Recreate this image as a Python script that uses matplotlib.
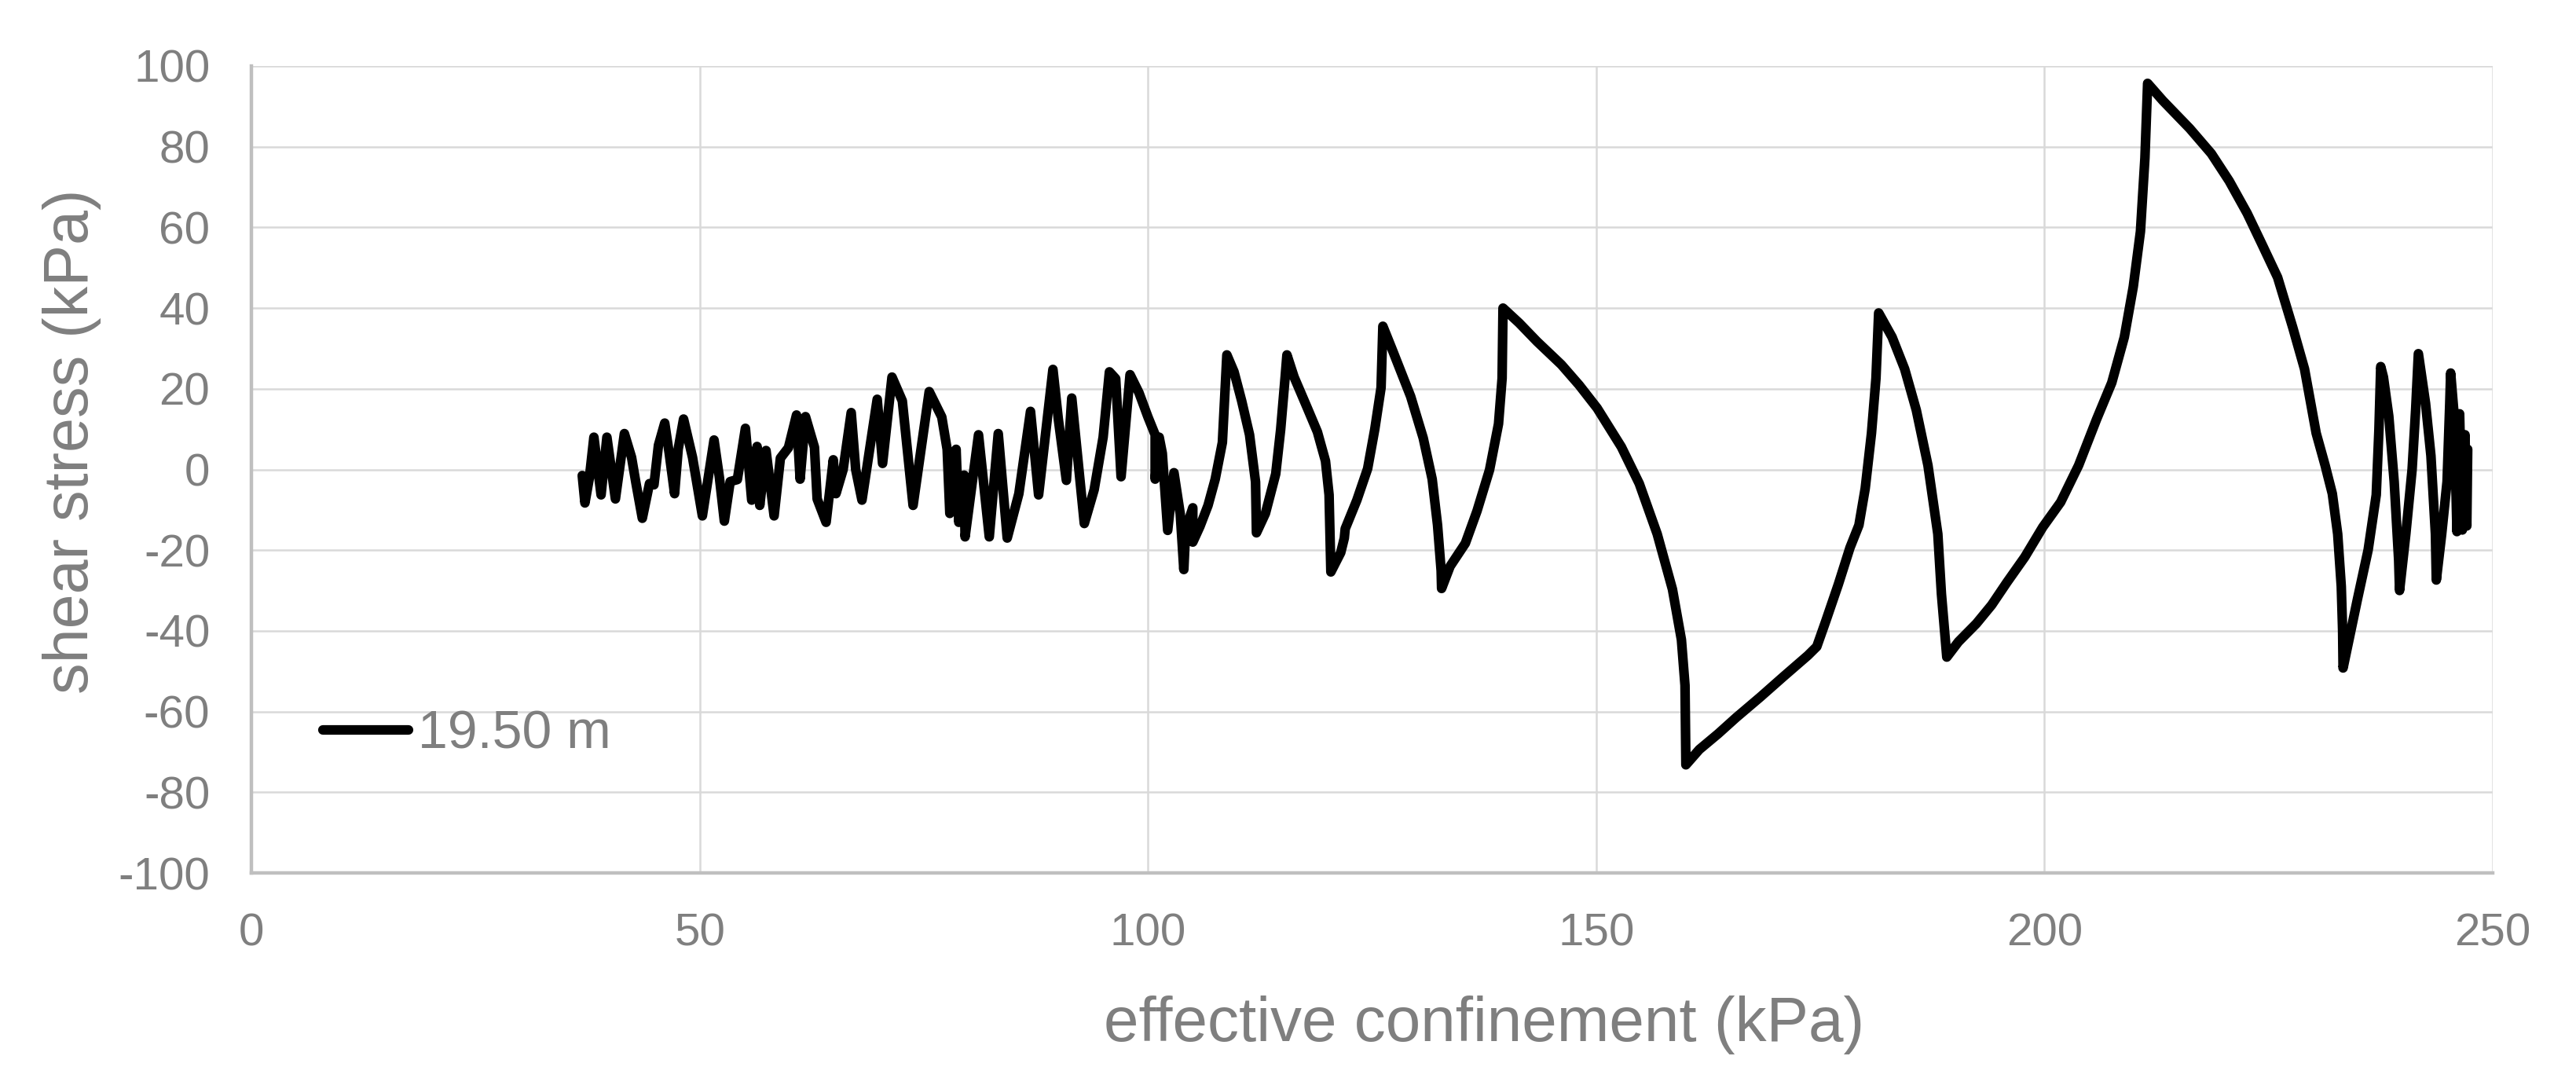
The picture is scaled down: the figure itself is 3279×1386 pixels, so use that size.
import matplotlib
matplotlib.use('Agg')
import matplotlib.pyplot as plt

plt.rcParams['font.family'] = ['Liberation Sans', 'DejaVu Sans']
plt.rcParams['axes.unicode_minus'] = False

# effective confinement (kPa) / shear stress (kPa)
conf = [36.9, 37.2, 37.7, 38.2, 39.0, 39.65, 40.6, 41.6, 42.4, 42.9,
        43.6, 44.4, 44.9, 45.4, 46.1, 46.6, 47.2, 47.6, 48.2, 49.2,
        50.3, 51.6, 52.2, 52.75, 53.4, 54.2, 55.1, 55.8, 56.4, 56.7,
        57.4, 58.3, 59.0, 59.9, 60.8, 61.2, 61.8, 62.8, 63.1, 64.1,
        64.9, 65.2, 66.0, 66.9, 67.4, 68.1, 69.8, 70.4, 71.45, 72.6,
        73.8, 75.6, 77.0, 77.6, 77.9, 78.6, 78.9, 79.5, 79.6, 81.1,
        82.3, 83.3, 83.8, 84.3, 85.6, 86.9, 87.8, 89.4, 90.0, 90.9,
        91.5, 92.9, 94.0, 95.0, 95.7, 96.4, 97.0, 98.0, 99.0, 100.0,
        100.8, 100.8, 101.25, 101.6, 102.2, 102.9, 103.6, 104.0, 104.2, 105.0,
        105.0, 105.8, 106.7, 107.5, 108.3, 108.6, 108.8, 109.6, 110.45, 111.33,
        112.0, 112.1, 113.1, 114.25, 114.8, 115.3, 115.5, 116.3, 117.8, 118.9,
        119.8, 120.2, 120.4, 121.5, 121.9, 122.0, 123.3, 124.5, 125.3, 126.0,
        126.2, 127.3, 129.3, 130.7, 131.7, 132.3, 132.7, 132.75, 133.7, 135.4,
        136.7, 138.1, 139.1, 139.5, 139.6, 141.4, 143.4, 146.1, 148.1, 150.1,
        152.8, 154.8, 156.8, 158.5, 159.5, 159.9, 160.0, 161.5, 163.6, 165.6,
        168.3, 170.9, 173.6, 174.6, 175.6, 177.0, 178.3, 179.3, 180.0, 180.7,
        181.2, 181.5, 183.0, 184.4, 185.7, 187.0, 188.1, 188.5, 189.1, 190.4,
        192.4, 194.1, 195.8, 197.8, 199.8, 201.8, 203.8, 205.8, 207.5, 208.9,
        209.9, 210.7, 211.2, 211.5, 213.2, 216.2, 218.6, 220.6, 222.6, 224.3,
        226.0, 227.7, 229.0, 230.3, 231.3, 232.1, 232.7, 233.1, 233.25, 233.3,
        234.1, 234.9, 236.1, 237.0, 237.3, 237.5, 237.8, 238.4, 239.0, 239.5,
        239.6, 240.3, 241.0, 241.4, 241.7, 242.5, 243.1, 243.6, 243.7, 244.3,
        244.9, 245.2, 245.3, 245.7, 246.0, 246.3, 246.6, 246.9, 247.1, 247.2]
shear = [-1.5, -8.3, -2.0, 8.0, -6.3, 8.0, -7.3, 8.9, 3.0, -3.5,
         -12.1, -3.5, -3.8, 6.0, 11.5, 4.0, -6.0, 5.0, 12.5, 3.0,
         -11.5, 7.3, -2.0, -12.8, -3.0, -2.5, 10.2, -7.6, 5.7, -8.9,
         4.7, -11.5, 2.8, 5.4, 13.5, -2.4, 13.1, 5.5, -7.3, -13.1,
         2.4, -6.0, 0.0, 14.1, 0.0, -7.6, 17.4, 1.5, 22.9, 17.0,
         -8.9, 19.3, 13.0, 5.0, -10.9, 5.0, -13.1, -1.4, -16.7, 8.6,
         -16.7, 8.9, -4.0, -17.0, -6.0, 14.4, -6.3, 24.8, 12.5, -2.7,
         17.7, -13.4, -5.0, 8.0, 24.2, 22.5, -1.8, 23.5, 19.0, 13.0,
         8.6, -2.4, 8.0, 4.0, -15.1, -0.8, -11.0, -24.8, -15.0, -9.5,
         -18.0, -14.1, -8.9, -2.4, 6.7, 19.6, 28.4, 24.2, 17.0, 8.6,
         -3.1, -15.7, -10.9, -1.1, 9.9, 22.9, 28.4, 22.9, 15.1, 9.3,
         2.1, -6.3, -25.4, -20.6, -17.0, -14.7, -7.6, 0.2, 10.0, 20.3,
         35.5, 29.4, 18.1, 7.8, -2.4, -13.8, -25.1, -29.5, -24.0, -18.3,
         -10.3, -0.1, 11.3, 22.6, 40.0, 36.3, 31.7, 26.0, 20.9, 15.2,
         5.6, -3.5, -16.0, -29.7, -42.2, -53.5, -73.2, -69.4, -65.5, -61.5,
         -56.4, -51.3, -46.1, -43.9, -37.6, -28.5, -19.4, -13.8, -4.7, 9.0,
         22.6, 38.8, 32.8, 24.9, 14.7, 1.0, -16.0, -30.8, -46.5, -42.7,
         -38.2, -33.6, -28.0, -21.7, -14.3, -8.1, 1.0, 12.4, 21.5, 32.8,
         45.3, 59.0, 77.2, 95.7, 91.4, 84.5, 78.3, 71.5, 63.5, 55.6,
         47.6, 35.1, 24.9, 9.0, 1.0, -6.0, -16.0, -29.0, -40.0, -49.2,
         -40.7, -32.2, -19.9, -6.3, 9.9, 25.5, 22.9, 13.2, -3.0, -22.5,
         -30.0, -16.0, 0.0, 15.0, 28.7, 16.4, 3.4, -16.0, -27.4, -16.0,
         -3.0, 16.4, 23.9, 13.2, -15.4, 13.8, -15.0, 8.6, -14.0, 5.0]

x_ticks = [0, 50, 100, 150, 200, 250]
y_ticks = [-100, -80, -60, -40, -20, 0, 20, 40, 60, 80, 100]

grey = '#7f7f7f'

fig = plt.figure(figsize=(3279 / 200, 1386 / 200), dpi=200)
ax = fig.add_axes([0.0976, 0.1984, 0.8701, 0.741])

ax.plot(conf, shear, color='black', lw=4.4, solid_joinstyle='round',
        solid_capstyle='round', label='19.50 m', zorder=3)

ax.set_xlim(0, 250)
ax.set_ylim(-100, 100)
ax.set_xticks(x_ticks)
ax.set_yticks(y_ticks)

ax.grid(True, color='#d9d9d9', lw=0.9)
ax.set_axisbelow(True)
for s in ['top', 'right']:
    ax.spines[s].set_visible(False)
for s in ['left', 'bottom']:
    ax.spines[s].set_color('#bfbfbf')
    ax.spines[s].set_linewidth(1.6)

ax.tick_params(length=0, labelsize=21, labelcolor=grey)
ax.tick_params(axis='y', pad=19)
ax.tick_params(axis='x', pad=18)

ax.set_xlabel('effective confinement (kPa)', fontsize=28.8, color=grey)
ax.set_ylabel('shear stress (kPa)', fontsize=28.5, color=grey)
ax.xaxis.set_label_coords(0.55, -0.152)
ax.yaxis.set_label_coords(-0.067, 0.535)

leg = ax.legend(loc='center left', bbox_to_anchor=(0.032, 0.172), frameon=False,
                fontsize=24.5, handlelength=1.6, handletextpad=0.17,
                borderpad=0, borderaxespad=0)
for t in leg.get_texts():
    t.set_color(grey)

fig.savefig('out.png', dpi=200)
